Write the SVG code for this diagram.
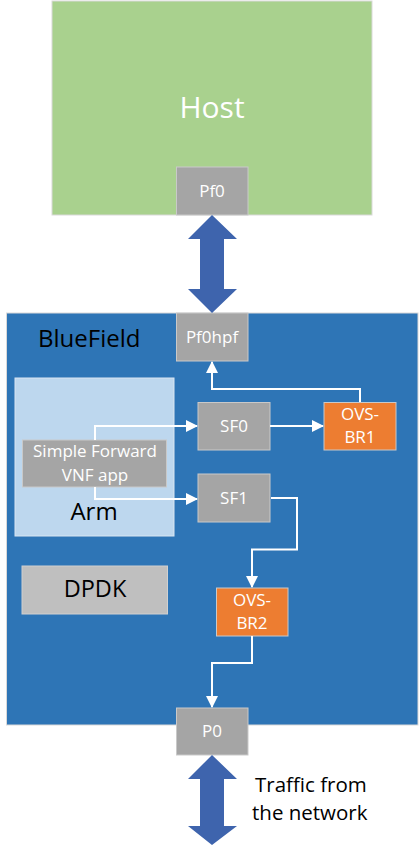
<svg xmlns="http://www.w3.org/2000/svg" width="419" height="846" viewBox="0 0 419 846">
<defs>
<style>
text{font-family:"Open Sans","Noto Sans","DejaVu Sans",sans-serif;text-anchor:middle}
.gray{fill:#a5a5a5;stroke:#c9c9c9;stroke-width:1}
.orange{fill:#ed7d31;stroke:#c9c9c9;stroke-width:1}
.wt{fill:#fff;font-size:17px}
.conn{fill:none;stroke:#fff;stroke-width:2}
.big{fill:#3e64ad}
</style>
<marker id="ah" markerWidth="12" markerHeight="12" viewBox="0 0 12 12" refX="11" refY="6" orient="auto" markerUnits="userSpaceOnUse">
<path d="M0,0 L12,6 L0,12 z" fill="#fff"/>
</marker>
</defs>
<rect width="419" height="846" fill="#fff"/>
<g id="host">
<rect x="52" y="1" width="320" height="214" fill="#a9d18e" stroke="#d9d9d9" stroke-width="1"/>
<text x="212" y="118" style="fill:#fff;font-size:30px">Host</text>
</g>
<g id="pf0">
<rect class="gray" x="176.5" y="167" width="71.5" height="48"/>
<text class="wt" x="212" y="197">Pf0</text>
</g>
<g id="bluefield">
<rect x="6.5" y="313" width="411.5" height="412" fill="#2e75b6" stroke="#d9d9d9" stroke-width="1"/>
<text x="38" y="347" style="text-anchor:start;fill:#000;font-size:24px">BlueField</text>
</g>
<g id="arm">
<rect x="15" y="378" width="159" height="158" fill="#bdd7ee" stroke="#d9e6f2" stroke-width="1"/>
<text x="94" y="520" style="fill:#000;font-size:24px">Arm</text>
</g>
<g id="app">
<rect class="gray" x="22.5" y="440" width="144" height="47"/>
<text class="wt" x="95" y="457">Simple Forward</text>
<text class="wt" x="95" y="481">VNF app</text>
</g>
<g id="dpdk">
<rect x="22" y="566" width="145.5" height="48" fill="#bfbfbf" stroke="#d0d0d0" stroke-width="1"/>
<text x="95" y="597" style="fill:#000;font-size:23.5px">DPDK</text>
</g>
<g id="pf0hpf">
<rect class="gray" x="176.5" y="313" width="71.5" height="48"/>
<text class="wt" x="212" y="343">Pf0hpf</text>
</g>
<g id="sf0">
<rect class="gray" x="198" y="402.5" width="72" height="47.5"/>
<text class="wt" x="234" y="432">SF0</text>
</g>
<g id="sf1">
<rect class="gray" x="198" y="474" width="72" height="48"/>
<text class="wt" x="234" y="504">SF1</text>
</g>
<g id="ovsbr1">
<rect class="orange" x="324" y="402.5" width="72" height="47.5"/>
<text class="wt" x="360" y="420">OVS-</text>
<text class="wt" x="360" y="443">BR1</text>
</g>
<g id="ovsbr2">
<rect class="orange" x="216.5" y="588" width="71.5" height="48"/>
<text class="wt" x="252" y="606">OVS-</text>
<text class="wt" x="252" y="629">BR2</text>
</g>
<g id="p0">
<rect class="gray" x="176.5" y="708" width="71.5" height="47"/>
<text class="wt" x="212" y="737">P0</text>
</g>
<g id="connectors">
<path class="big" d="M212,215 L237,239 L224,239 L224,289 L237,289 L212,313 L188,289 L200,289 L200,239 L188,239 Z"/>
<path class="big" d="M212,755 L237,779 L224,779 L224,826 L237,826 L212,845 L188,826 L200,826 L200,779 L188,779 Z"/>
<path class="conn" d="M360,402 V389 H212 V362" marker-end="url(#ah)"/>
<path class="conn" d="M95,440 V426 H197" marker-end="url(#ah)"/>
<path class="conn" d="M270,426 H323" marker-end="url(#ah)"/>
<path class="conn" d="M95,487 V499 H197" marker-end="url(#ah)"/>
<path class="conn" d="M271,498 H297 V549.5 H252 V587" marker-end="url(#ah)"/>
<path class="conn" d="M252,636 V663 H212 V707" marker-end="url(#ah)"/>
</g>
<g id="traffic-label">
<text x="255" y="792" style="text-anchor:start;fill:#000;font-size:20.5px">Traffic from</text>
<text x="252" y="820" style="text-anchor:start;fill:#000;font-size:20.5px">the network</text>
</g>
</svg>
